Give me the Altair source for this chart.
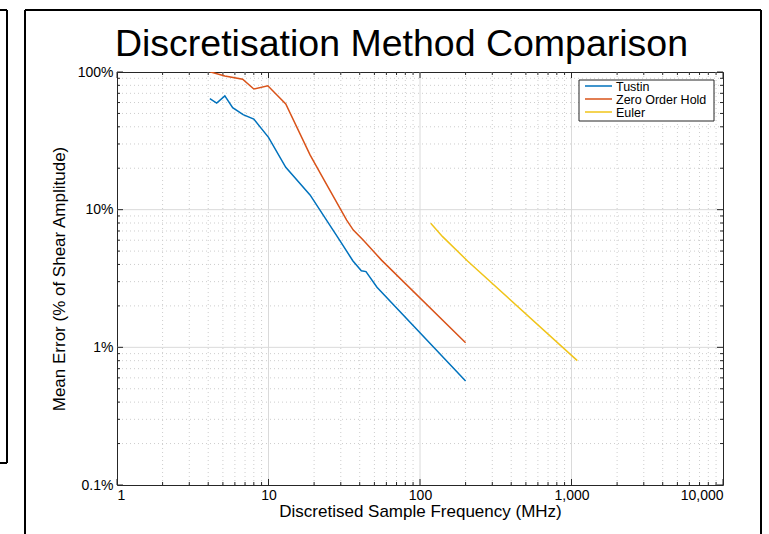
import altair as alt
import pandas as pd

# ---------------- data ----------------
tustin_x = [4.1, 4.55, 5.15, 5.8, 6.8, 8.0, 10.0, 13.0, 18.8, 29.6, 36.0, 41.0, 44.0, 52.0, 200.0]
tustin_y = [64.0, 59.5, 67.0, 55.0, 49.0, 45.5, 33.5, 20.3, 12.8, 5.96, 4.26, 3.6, 3.55, 2.73, 0.57]

zoh_x = [4.1, 5.15, 6.75, 8.0, 9.9, 13.0, 18.8, 23.3, 32.8, 36.3, 42.3, 55.7, 200.0]
zoh_y = [100.5, 93.5, 88.5, 75.2, 79.5, 58.6, 25.0, 16.4, 8.4, 7.1, 6.0, 4.3, 1.08]

euler_x = [117.7, 141.0, 206.0, 1092.0]
euler_y = [7.96, 6.37, 4.24, 0.80]

series_names = ["Tustin", "Zero Order Hold", "Euler"]
series_colors = ["#0072BD", "#D95319", "#F0C419"]

x_major = [1, 10, 100, 1000, 10000]
x_minor = [m * 10 ** k for k in range(4) for m in range(2, 10)]
y_major = [0.1, 1, 10, 100]
y_minor = [round(m * 10.0 ** k, 4) for k in (-1, 0, 1) for m in range(2, 10)]

title_text = "Discretisation Method Comparison"
x_title = "Discretised Sample Frequency (MHz)"
y_title = "Mean Error (% of Shear Amplitude)"

# ---------------- layout ----------------
W, H = 606, 413
PL, PT = 117, 72
FONT = "Liberation Sans, Arial, Helvetica, sans-serif"

rows = []
for name, xs_, ys_ in zip(series_names, [tustin_x, zoh_x, euler_x], [tustin_y, zoh_y, euler_y]):
    for i, (a, b) in enumerate(zip(xs_, ys_)):
        rows.append({"series": name, "freq": a, "err": b, "order": i})
df = pd.DataFrame(rows)

xs = alt.Scale(type="log", domain=[1, 10000])
ys = alt.Scale(type="log", domain=[0.1, 100])
cs = alt.Scale(domain=series_names, range=series_colors)

grid_col = "#dadada"
tick_col = "#262626"

xmaj_df = pd.DataFrame({"v": x_major[1:-1]})
xmin_df = pd.DataFrame({"v": x_minor})
ymaj_df = pd.DataFrame({"v": y_major[1:-1]})
ymin_df = pd.DataFrame({"v": y_minor})
xall_maj = pd.DataFrame({"v": x_major})
yall_maj = pd.DataFrame({"v": y_major})
one = pd.DataFrame({"v": [1]})

layers = []

# minor grid (dotted)
layers.append(alt.Chart(xmin_df).mark_rule(color="#cdcdcd", strokeDash=[1, 3], strokeWidth=1).encode(
    x=alt.X("v:Q", scale=xs)))
layers.append(alt.Chart(ymin_df).mark_rule(color="#cdcdcd", strokeDash=[1, 3], strokeWidth=1).encode(
    y=alt.Y("v:Q", scale=ys)))
# major grid (solid)
layers.append(alt.Chart(xmaj_df).mark_rule(color=grid_col, strokeWidth=1).encode(x=alt.X("v:Q", scale=xs)))
layers.append(alt.Chart(ymaj_df).mark_rule(color=grid_col, strokeWidth=1).encode(y=alt.Y("v:Q", scale=ys)))


# inward ticks on all four sides
def xticks(d, ln):
    return [
        alt.Chart(d).mark_rule(color=tick_col, strokeWidth=1).encode(
            x=alt.X("v:Q", scale=xs), y=alt.value(0), y2=alt.value(ln)),
        alt.Chart(d).mark_rule(color=tick_col, strokeWidth=1).encode(
            x=alt.X("v:Q", scale=xs), y=alt.value(H), y2=alt.value(H - ln)),
    ]


def yticks(d, ln):
    return [
        alt.Chart(d).mark_rule(color=tick_col, strokeWidth=1).encode(
            y=alt.Y("v:Q", scale=ys), x=alt.value(0), x2=alt.value(ln)),
        alt.Chart(d).mark_rule(color=tick_col, strokeWidth=1).encode(
            y=alt.Y("v:Q", scale=ys), x=alt.value(W), x2=alt.value(W - ln)),
    ]


layers += xticks(xmin_df, 3) + xticks(xall_maj, 6) + yticks(ymin_df, 3) + yticks(yall_maj, 6)

# data lines
lines = alt.Chart(df).mark_line(strokeWidth=1.5, clip=True).encode(
    x=alt.X("freq:Q", scale=xs,
            axis=alt.Axis(values=x_major, format=",", title=x_title, ticks=False, domain=False,
                          grid=False, labelPadding=3, titlePadding=1,
                          labelFont=FONT, titleFont=FONT, labelFontSize=14, titleFontSize=17,
                          labelColor="black", titleColor="black", titleFontWeight="normal")),
    y=alt.Y("err:Q", scale=ys,
            axis=alt.Axis(values=y_major, labelExpr="datum.value + '%'", title=y_title, ticks=False,
                          domain=False, grid=False, labelPadding=4, titlePadding=9,
                          labelFont=FONT, titleFont=FONT, labelFontSize=14, titleFontSize=17,
                          labelColor="black", titleColor="black", titleFontWeight="normal")),
    color=alt.Color("series:N", scale=cs, legend=None),
    order="order:Q",
)
layers.append(lines)

# legend (box, line samples, labels)
LX0, LY0, LX1, LY1 = 462, 8, 597, 49
layers.append(alt.Chart(one).mark_rect(fill="white", stroke=tick_col, strokeWidth=1).encode(
    x=alt.value(LX0), x2=alt.value(LX1), y=alt.value(LY0), y2=alt.value(LY1)))
for i, name in enumerate(series_names):
    yy = 14 + 13 * i
    ld = pd.DataFrame({"series": [name]})
    layers.append(alt.Chart(ld).mark_rule(strokeWidth=1.5).encode(
        x=alt.value(468), x2=alt.value(495), y=alt.value(yy),
        color=alt.Color("series:N", scale=cs, legend=None)))
    layers.append(alt.Chart(ld).mark_text(align="left", baseline="middle", font=FONT, fontSize=12.5,
                                          color="black", dy=0.5).encode(
        x=alt.value(499), y=alt.value(yy), text="series:N"))

# title
layers.append(alt.Chart(one).mark_text(text=title_text, font=FONT, fontSize=37.5, align="center",
                                       baseline="alphabetic", color="black").encode(
    x=alt.value(284.5), y=alt.value(-16)))

# figure frames (decoration around the axes)
frame = dict(color="black", strokeWidth=2)
layers.append(alt.Chart(one).mark_rule(**frame).encode(
    x=alt.value(-92), x2=alt.value(644), y=alt.value(-62)))
layers.append(alt.Chart(one).mark_rule(**frame).encode(
    x=alt.value(-92), y=alt.value(-62), y2=alt.value(470)))
layers.append(alt.Chart(one).mark_rule(**frame).encode(
    x=alt.value(644), y=alt.value(-62), y2=alt.value(470)))
layers.append(alt.Chart(one).mark_rule(**frame).encode(
    x=alt.value(-120), x2=alt.value(-110), y=alt.value(-62)))
layers.append(alt.Chart(one).mark_rule(**frame).encode(
    x=alt.value(-110), y=alt.value(-62), y2=alt.value(391)))
layers.append(alt.Chart(one).mark_rule(**frame).encode(
    x=alt.value(-120), x2=alt.value(-110), y=alt.value(391)))

chart = alt.layer(*layers).properties(
    width=W, height=H,
    background="white",
    autosize=alt.AutoSizeParams(type="none"),
    padding={"left": PL, "top": PT, "right": 769 - PL - W, "bottom": 534 - PT - H},
).configure_view(stroke=tick_col, strokeWidth=1)

chart.save("out.html", embed_options={"renderer": "svg", "actions": False})
